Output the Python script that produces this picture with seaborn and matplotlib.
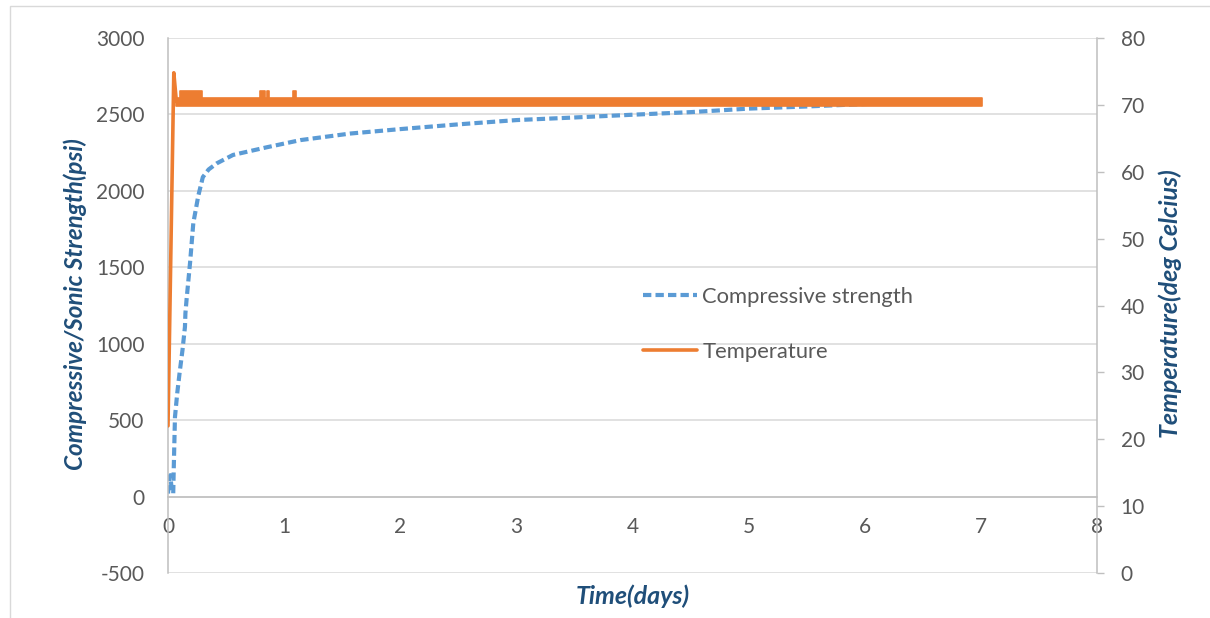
import numpy as np
import pandas as pd
import matplotlib
matplotlib.use("Agg")
import matplotlib.pyplot as plt
from matplotlib.lines import Line2D
from matplotlib.patches import Rectangle
import seaborn as sns

# ---- data -------------------------------------------------------------
strength_days = [0.000, 0.010, 0.020, 0.030, 0.045, 0.050, 0.060, 0.080, 0.100,
                 0.125, 0.146, 0.150, 0.160, 0.190, 0.218, 0.240, 0.260, 0.300,
                 0.350, 0.420, 0.560, 0.850, 1.140, 1.570, 2.000, 2.500, 3.000,
                 3.500, 4.000, 4.500, 5.000, 5.500, 6.000, 6.500, 7.000]
strength_psi = [20, 120, 140, 60, 20, 200, 520, 680, 810,
                960, 1110, 1200, 1290, 1530, 1790, 1880, 1965, 2090,
                2140, 2180, 2235, 2285, 2332, 2375, 2404, 2435, 2463,
                2480, 2498, 2515, 2538, 2552, 2568, 2580, 2594]

# warm-up of the cell to the curing temperature
temp_days = [0.000, 0.050, 0.072]
temp_degc = [22.0, 74.8, 70.5]
# steady-state readings flicker between two levels; envelope of that band
band_days = [0.072, 0.100, 0.100, 0.290, 0.290, 0.790, 0.790, 0.835, 0.835,
             0.855, 0.855, 0.870, 0.870, 1.080, 1.080, 1.100, 1.100, 7.010]
band_high = [71.1, 71.1, 72.1, 72.1, 71.1, 71.1, 72.1, 72.1, 71.1,
             71.1, 72.1, 72.1, 71.1, 71.1, 72.1, 72.1, 71.1, 71.1]
band_low = [69.8] * len(band_days)

x_ticks = list(range(0, 9))
left_ticks = list(range(-500, 3001, 500))
right_ticks = list(range(0, 81, 10))

# ---- style ------------------------------------------------------------
sns.set_style("white")
plt.rcParams["font.family"] = ["Lato", "DejaVu Sans"]

BLUE = "#5B9BD5"
ORANGE = "#ED7D31"
GRID = "#D9D9D9"
SPINE = "#BFBFBF"
TICKTXT = "#595959"
LABEL = "#1F4E79"
DASH = (0, (2.0, 1.0))

W, H = 1210, 618
fig = plt.figure(figsize=(W / 100, H / 100), dpi=100)
ax = fig.add_axes([168 / W, 1 - 573 / H, (1097 - 168) / W, (573 - 38) / H])
ax2 = ax.twinx()

# frame around the chart area
fig.patches.append(Rectangle((10 / W, -0.05), 1.2, 1 - 6 / H + 0.05,
                             transform=fig.transFigure, fill=False,
                             edgecolor="#D9D9D9", lw=1.0))

# compressive strength on the left axis
df_s = pd.DataFrame({"days": strength_days, "psi": strength_psi})
sns.lineplot(data=df_s, x="days", y="psi", ax=ax, color=BLUE, lw=3.0,
             estimator=None, sort=False, legend=False, linestyle=DASH)

# temperature on the right axis
df_t = pd.DataFrame({"days": temp_days, "degc": temp_degc})
sns.lineplot(data=df_t, x="days", y="degc", ax=ax2, color=ORANGE, lw=2.6,
             estimator=None, sort=False, legend=False,
             solid_capstyle="round", solid_joinstyle="round")
ax2.fill_between(band_days, band_low, band_high, color=ORANGE, lw=1.2,
                 edgecolor=ORANGE, joinstyle="round")

# axes ranges and ticks
ax.set_xlim(0, 8)
ax.set_ylim(-500, 3000)
ax2.set_ylim(0, 80)
ax.set_xticks(x_ticks)
ax.set_yticks(left_ticks)
ax2.set_yticks(right_ticks)
ax.set_xticklabels([str(v) for v in x_ticks])
ax.set_yticklabels([str(v) for v in left_ticks])
ax2.set_yticklabels([str(v) for v in right_ticks])

ax.grid(axis="y", color=GRID, lw=1.1)
ax.grid(axis="x", visible=False)
ax.set_axisbelow(True)

for s in ["top", "right"]:
    ax.spines[s].set_visible(False)
ax.spines["bottom"].set_position(("data", 0))
ax.spines["bottom"].set_color(SPINE)
ax.spines["bottom"].set_linewidth(1.1)
ax.spines["left"].set_color(SPINE)
ax.spines["left"].set_linewidth(1.1)
for s in ["top", "left", "bottom"]:
    ax2.spines[s].set_visible(False)
ax2.spines["right"].set_color(SPINE)
ax2.spines["right"].set_linewidth(1.1)

ax.tick_params(axis="x", length=0, pad=15, labelsize=15, labelcolor=TICKTXT)
ax.tick_params(axis="y", length=0, pad=17, labelsize=15, labelcolor=TICKTXT)
ax2.tick_params(axis="y", length=5, width=1, color=SPINE, direction="out",
                pad=12, labelsize=15, labelcolor=TICKTXT)

lab_kw = dict(fontsize=18, fontweight="bold", fontstyle="italic", color=LABEL)
ax.set_xlabel("Time(days)", **lab_kw)
ax.set_ylabel("Compressive/Sonic Strength(psi)", fontsize=17.5,
              fontweight="bold", fontstyle="italic", color=LABEL)
ax2.set_ylabel("Temperature(deg Celcius)", **lab_kw)
ax.xaxis.label.set_verticalalignment("center")
ax.yaxis.label.set_verticalalignment("center")
ax2.yaxis.label.set_verticalalignment("center")
ax.xaxis.set_label_coords(0.5005, -0.043)
ax.yaxis.set_label_coords(-0.1001, 0.503)
ax2.yaxis.set_label_coords(1.0786, 0.503)

handles = [
    Line2D([], [], color=BLUE, lw=3.0, linestyle=DASH),
    Line2D([], [], color=ORANGE, lw=2.6),
]
leg = ax2.legend(handles, ["Compressive strength", "Temperature"],
                 loc="upper left", bbox_to_anchor=(643 / W, 1 - 287 / H),
                 bbox_transform=fig.transFigure, frameon=False,
                 fontsize=15.8, handlelength=2.45, handletextpad=0.25,
                 labelspacing=1.6, borderpad=0, borderaxespad=0,
                 labelcolor=TICKTXT)

fig.savefig("out.png", dpi=100)
